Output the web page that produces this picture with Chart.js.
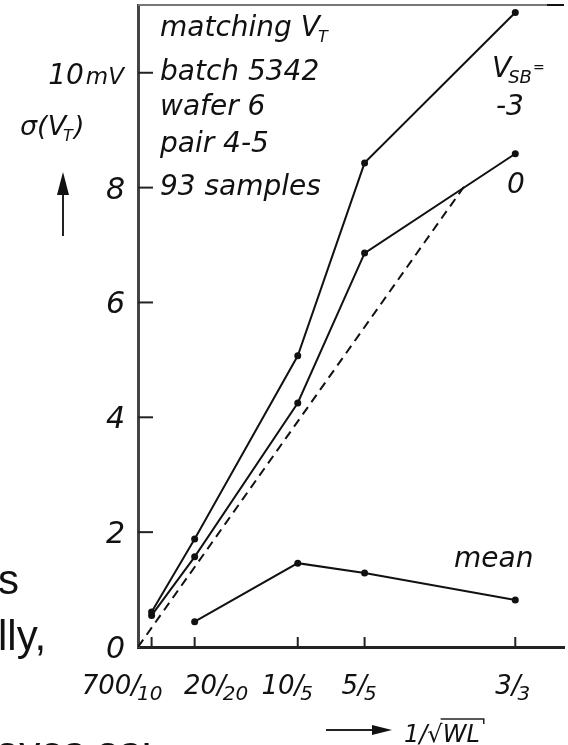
<!DOCTYPE html>
<html>
<head>
<meta charset="utf-8">
<script src="https://cdn.jsdelivr.net/npm/chart.js@4.4.0/dist/chart.umd.min.js"></script>
<style>
  body { margin: 0; background: #fff; }
  canvas { display: block; }
</style>
</head>
<body>
<canvas id="matchingChart" width="568" height="745"></canvas>
<script>
// device sizes W/L and their position on the 1/sqrt(WL) axis (1/um)
const sizeLabels = ['700/10', '20/20', '10/5', '5/5', '3/3'];
const invSqrtWL = [0.012, 0.05, 0.141, 0.2, 0.333];

// sigma(VT) in mV
const sigmaVsbM3 = [0.61, 1.88, 5.07, 8.43, 11.05];
const sigmaVsb0 = [0.55, 1.57, 4.25, 6.86, 8.59];
const meanDeltaVt = [null, 0.44, 1.46, 1.29, 0.82];

// dashed reference line
const refLineX = [0, 0.29];
const refLineY = [0, 8.08];

const yTicks = [0, 2, 4, 6, 8, 10];

// small horizontal nudges of the x labels (px), as in the original drawing
const labelShift = [-28, 23, -9, -4, -1];

const font = (size) => `italic ${size}px "DejaVu Sans"`;
const toPoints = (xs, ys) => xs.map((x, i) => ({ x: x, y: ys[i] })).filter(p => p.y !== null);

function text(ctx, str, x, y, size, align) {
    ctx.font = font(size);
    ctx.textAlign = align || 'left';
    ctx.fillText(str, x, y);
    return ctx.measureText(str).width;
}

const drawExtras = {
    id: 'drawExtras',
    beforeDraw(chart) {
        const ctx = chart.ctx;
        ctx.save();
        ctx.fillStyle = '#fff';
        ctx.fillRect(0, 0, chart.width, chart.height);
        ctx.restore();
    },
    afterDraw(chart) {
        const ctx = chart.ctx;
        const xs = chart.scales.x;
        const ys = chart.scales.y;
        const area = chart.chartArea;
        ctx.save();
        ctx.fillStyle = '#111';
        ctx.strokeStyle = '#222';
        ctx.textBaseline = 'alphabetic';

        // top frame line
        ctx.lineWidth = 2;
        ctx.strokeStyle = '#777';
        ctx.beginPath();
        ctx.moveTo(area.left, area.top);
        ctx.lineTo(547, area.top);
        ctx.stroke();
        ctx.strokeStyle = '#111';
        ctx.beginPath();
        ctx.moveTo(547, area.top);
        ctx.lineTo(area.right, area.top);
        ctx.stroke();

        // inward tick marks
        ctx.lineWidth = 2;
        ctx.strokeStyle = '#222';
        yTicks.forEach(v => {
            if (v === 0) return;
            const y = ys.getPixelForValue(v);
            ctx.beginPath();
            ctx.moveTo(area.left, y);
            ctx.lineTo(area.left + 15, y);
            ctx.stroke();
        });
        invSqrtWL.forEach(v => {
            const x = xs.getPixelForValue(v);
            ctx.beginPath();
            ctx.moveTo(x, area.bottom);
            ctx.lineTo(x, area.bottom - 10);
            ctx.stroke();
        });

        // y tick labels
        yTicks.forEach(v => {
            const y = ys.getPixelForValue(v) + 11;
            if (v === 10) {
                const w = text(ctx, 'mV', 124, y, 23, 'right');
                text(ctx, '10', 124 - w - 2, y, 28, 'right');
            } else {
                text(ctx, String(v), 125, y, 30, 'right');
            }
        });

        // x tick labels, written as fractions
        sizeLabels.forEach((lab, i) => {
            const parts = lab.split('/');
            ctx.font = font(26);
            const w1 = ctx.measureText(parts[0] + '/').width;
            ctx.font = font(20);
            const w2 = ctx.measureText(parts[1]).width;
            const cx = xs.getPixelForValue(invSqrtWL[i]) + labelShift[i];
            const x0 = cx - (w1 + w2) / 2;
            text(ctx, parts[0] + '/', x0, 694, 26);
            text(ctx, parts[1], x0 + w1 - 3, 700, 20);
        });

        // info block
        let w = text(ctx, 'matching V', 160, 36, 28);
        text(ctx, 'T', 160 + w - 2, 42, 16);
        text(ctx, 'batch 5342', 160, 80, 28);
        text(ctx, 'wafer 6', 160, 115, 28);
        text(ctx, 'pair 4-5', 160, 152, 28);
        text(ctx, '93 samples', 160, 195, 28);

        // y axis title with arrow
        w = text(ctx, 'σ(V', 20, 135, 27);
        const wt = text(ctx, 'T', 20 + w - 3, 141, 16);
        text(ctx, ')', 20 + w + wt - 2, 135, 27);
        ctx.lineWidth = 2;
        ctx.beginPath();
        ctx.moveTo(63, 236);
        ctx.lineTo(63, 192);
        ctx.stroke();
        ctx.beginPath();
        ctx.moveTo(57, 195);
        ctx.lineTo(69, 195);
        ctx.lineTo(63, 172);
        ctx.closePath();
        ctx.fill();

        // series labels
        w = text(ctx, 'V', 492, 77, 28);
        const ws = text(ctx, 'SB', 492 + w - 3, 83, 18);
        text(ctx, '=', 492 + w + ws - 2, 72, 14);
        text(ctx, '-3', 496, 115, 28);
        text(ctx, '0', 507, 193, 28);
        text(ctx, 'mean', 454, 567, 28);

        // x axis title with arrow
        ctx.lineWidth = 2;
        ctx.beginPath();
        ctx.moveTo(326, 730);
        ctx.lineTo(376, 730);
        ctx.stroke();
        ctx.beginPath();
        ctx.moveTo(372, 725);
        ctx.lineTo(392, 730);
        ctx.lineTo(372, 735);
        ctx.closePath();
        ctx.fill();
        w = text(ctx, '1/', 404, 742, 24);
        const wr = text(ctx, '√', 404 + w, 742, 24);
        const wl = text(ctx, 'WL', 404 + w + wr, 742, 24);
        ctx.lineWidth = 1.5;
        ctx.beginPath();
        ctx.moveTo(404 + w + wr - 2, 719);
        ctx.lineTo(404 + w + wr + wl + 4, 719);
        ctx.lineTo(404 + w + wr + wl + 4, 724);
        ctx.stroke();

        // slide text behind the figure
        ctx.font = '42px "Liberation Sans"';
        ctx.textAlign = 'right';
        ctx.fillText('s', 19, 594);
        ctx.textAlign = 'left';
        ctx.fillText('lly,', -2, 650);
        ctx.fillText('ayes as:', -4, 766);
        ctx.restore();
    }
};

const lineStyle = {
    borderColor: '#111',
    backgroundColor: '#111',
    borderWidth: 2,
    pointRadius: 3.5,
    pointBackgroundColor: '#111',
    pointBorderWidth: 0,
    showLine: true,
    tension: 0
};

const ctx = document.getElementById('matchingChart').getContext('2d');
const chart = new Chart(ctx, {
    type: 'scatter',
    data: {
        datasets: [
            { label: 'VSB = -3', data: toPoints(invSqrtWL, sigmaVsbM3), ...lineStyle },
            { label: 'VSB = 0', data: toPoints(invSqrtWL, sigmaVsb0), ...lineStyle },
            { label: 'mean', data: toPoints(invSqrtWL, meanDeltaVt), ...lineStyle },
            {
                label: 'reference',
                data: toPoints(refLineX, refLineY),
                ...lineStyle,
                pointRadius: 0,
                borderDash: [9, 6]
            }
        ]
    },
    options: {
        responsive: false,
        animation: false,
        layout: { padding: { top: 5, left: 0, right: 0, bottom: 0 } },
        plugins: {
            legend: { display: false },
            tooltip: { enabled: false }
        },
        scales: {
            x: {
                type: 'linear',
                min: 0,
                max: 0.376,
                grid: { display: false },
                border: { color: '#222', width: 3 },
                ticks: { display: false },
                afterFit: (s) => { s.height = 98; }
            },
            y: {
                min: 0,
                max: 11.18,
                grid: { display: false },
                border: { color: '#444', width: 3 },
                ticks: { display: false },
                afterFit: (s) => { s.width = 138; }
            }
        }
    },
    plugins: [drawExtras]
});
</script>
</body>
</html>
